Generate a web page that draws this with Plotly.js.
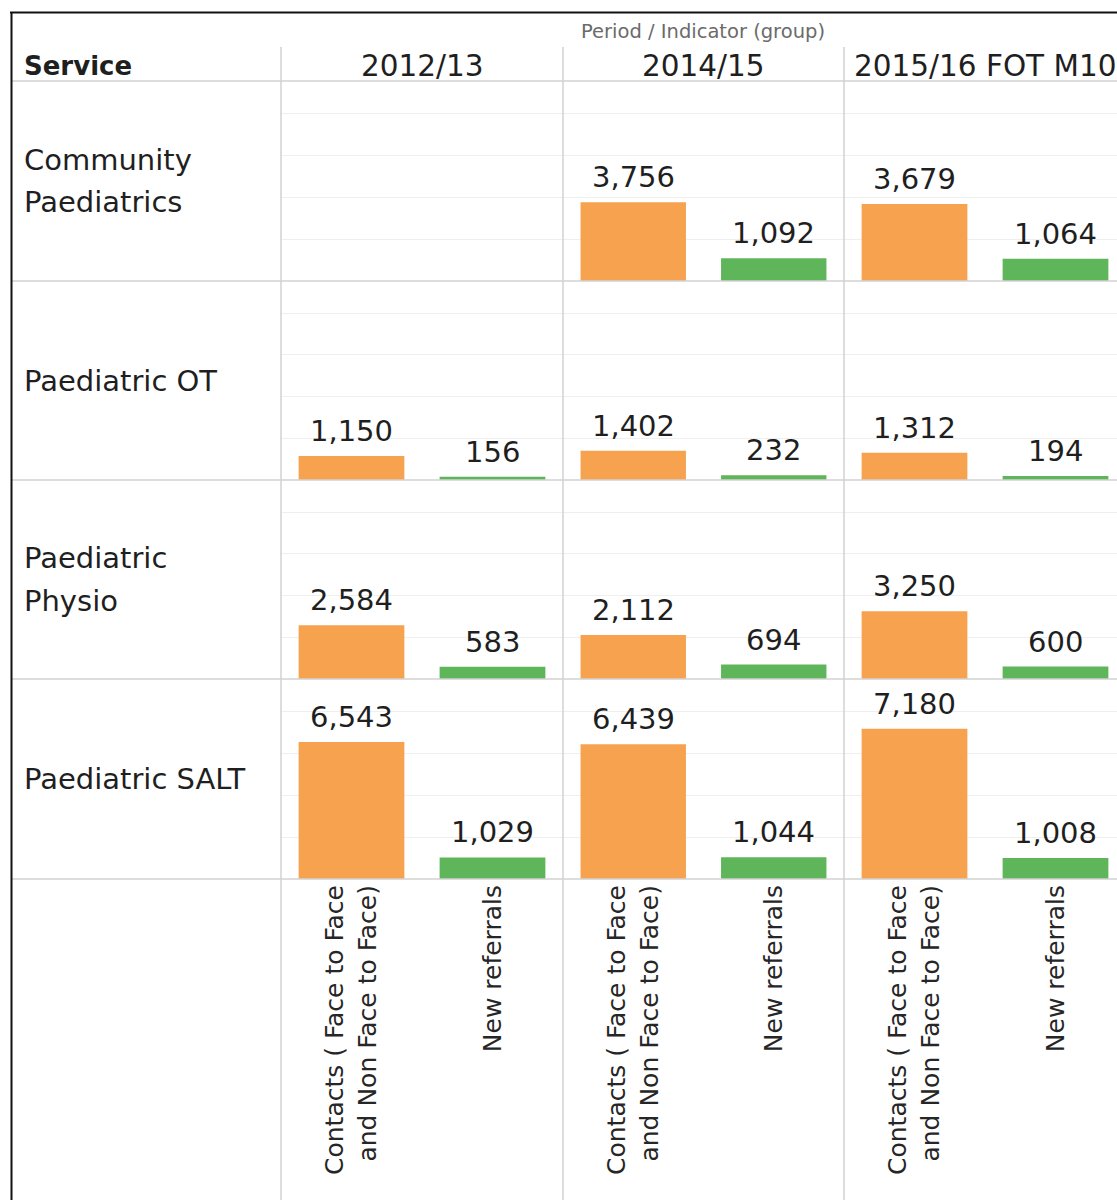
<!DOCTYPE html>
<html>
<head>
<meta charset="utf-8">
<script src="https://cdn.plot.ly/plotly-3.0.1.min.js"></script>
<style>
  html, body { margin: 0; padding: 0; background: #ffffff; }
  #chart { width: 1117px; height: 1200px; }
</style>
</head>
<body>
<div id="chart"></div>
<script>
// ---- Data ----
const periods = ['2012/13', '2014/15', '2015/16 FOT M10'];
const services = ['Community Paediatrics', 'Paediatric OT', 'Paediatric Physio', 'Paediatric SALT'];
const serviceLabelLines = [['Community', 'Paediatrics'], ['Paediatric OT'], ['Paediatric', 'Physio'], ['Paediatric SALT']];
const indicators = ['Contacts ( Face to Face and Non Face to Face)', 'New referrals'];
const indicatorTickText = ['Contacts ( Face to Face<br>and Non Face to Face)', 'New referrals'];

// values per service, across periods
const contactsCommunity = [null, 3756, 3679];
const referralsCommunity = [null, 1092, 1064];
const contactsOT = [1150, 1402, 1312];
const referralsOT = [156, 232, 194];
const contactsPhysio = [2584, 2112, 3250];
const referralsPhysio = [583, 694, 600];
const contactsSALT = [6543, 6439, 7180];
const referralsSALT = [1029, 1044, 1008];

const contactsBySvc = [contactsCommunity, contactsOT, contactsPhysio, contactsSALT];
const referralsBySvc = [referralsCommunity, referralsOT, referralsPhysio, referralsSALT];

// ---- Layout geometry (pixels) ----
const W = 1117, H = 1200;
const colEdges = [281, 563, 844, 1126];
const rowEdges = [81, 281, 480, 679, 879];
const px = v => v / W;
const py = v => 1 - v / H;

const ORANGE = '#F7A24F';
const GREEN = '#5FB55A';
const FONT = 'DejaVu Sans';
const TXT = '#1f1f1f';

const traces = [];
const layout = {
  width: W, height: H,
  margin: {l: 0, r: 0, t: 0, b: 0},
  paper_bgcolor: '#ffffff',
  plot_bgcolor: 'rgba(0,0,0,0)',
  showlegend: false,
  bargap: 0.25,
  font: {family: FONT, color: TXT},
  annotations: [],
  shapes: []
};

services.forEach((svc, r) => {
  periods.forEach((per, c) => {
    const idx = r * 3 + c + 1;
    const xName = 'x' + idx, yName = 'y' + idx;
    const left = colEdges[c];
    const right = Math.min(colEdges[c + 1], W);
    const catW = (colEdges[c + 1] - colEdges[c]) / 2;
    const vals = [contactsBySvc[r][c], referralsBySvc[r][c]];

    traces.push({
      type: 'bar',
      x: indicators,
      y: vals,
      xaxis: xName, yaxis: yName,
      marker: {color: [ORANGE, GREEN], line: {width: 0}},
      hoverinfo: 'x+y'
    });

    layout['xaxis' + idx] = {
      domain: [px(left), px(right)],
      anchor: yName,
      type: 'category',
      categoryorder: 'array',
      categoryarray: indicators,
      range: [-0.5, -0.5 + (right - left) / catW],
      showgrid: false, zeroline: false, showline: false,
      ticks: '',
      showticklabels: r === services.length - 1,
      tickmode: 'array',
      tickvals: indicators,
      ticktext: indicatorTickText,
      tickangle: -90,
      tickfont: {family: FONT, size: 25, color: '#262626'},
      fixedrange: true
    };
    layout['yaxis' + idx] = {
      domain: [py(rowEdges[r + 1]), py(rowEdges[r])],
      anchor: xName,
      range: [0, 9550],
      dtick: 2000,
      showgrid: true, gridcolor: '#efefef', gridwidth: 1,
      zeroline: false, showline: false,
      showticklabels: false, ticks: '',
      fixedrange: true
    };

    vals.forEach((v, k) => {
      if (v === null) return;
      layout.annotations.push({
        xref: xName, yref: yName,
        x: indicators[k], y: v,
        text: v.toLocaleString('en-US'),
        showarrow: false,
        xanchor: 'center', yanchor: 'bottom',
        yshift: 6,
        font: {family: FONT, size: 29, color: TXT}
      });
    });
  });

  // row label
  const lines = serviceLabelLines[r];
  const center = (rowEdges[r] + rowEdges[r + 1]) / 2;
  lines.forEach((ln, i) => {
    const off = (i - (lines.length - 1) / 2) * 43;
    layout.annotations.push({
      xref: 'paper', yref: 'paper',
      x: px(22), y: py(center + off),
      xanchor: 'left', yanchor: 'middle',
      text: ln, showarrow: false,
      font: {family: FONT, size: 29, color: TXT}
    });
  });
});

// column headers
periods.forEach((per, c) => {
  layout.annotations.push({
    xref: 'paper', yref: 'paper',
    x: px((colEdges[c] + colEdges[c + 1]) / 2), y: py(66),
    xanchor: 'center', yanchor: 'middle',
    text: per, showarrow: false,
    font: {family: FONT, size: 29.5, color: TXT}
  });
});
layout.annotations.push({
  xref: 'paper', yref: 'paper',
  x: px(22), y: py(66), xanchor: 'left', yanchor: 'middle',
  text: '<b>Service</b>', showarrow: false,
  font: {family: FONT, size: 26, color: TXT}
});
layout.annotations.push({
  xref: 'paper', yref: 'paper',
  x: px(703), y: py(32), xanchor: 'center', yanchor: 'middle',
  text: 'Period / Indicator (group)', showarrow: false,
  font: {family: FONT, size: 19.5, color: '#6b6b6b'}
});

// frame and divider lines
const LINE = '#d2d2d2';
const hLine = (y, x0, x1, color, w) => ({type: 'line', xref: 'paper', yref: 'paper',
  x0: px(x0), x1: px(x1), y0: py(y), y1: py(y), line: {color: color, width: w}, layer: 'above'});
const vLine = (x, y0, y1, color, w) => ({type: 'line', xref: 'paper', yref: 'paper',
  x0: px(x), x1: px(x), y0: py(y0), y1: py(y1), line: {color: color, width: w}, layer: 'above'});

rowEdges.forEach(y => layout.shapes.push(hLine(y, 11, W, LINE, 1.5)));
colEdges.slice(0, 3).forEach(x => layout.shapes.push(vLine(x, 47, H, LINE, 1.5)));
layout.shapes.push(hLine(12.5, 10, W, '#111111', 2));
layout.shapes.push(vLine(11.5, 12, H, '#111111', 2));

Plotly.newPlot('chart', traces, layout, {displayModeBar: false, staticPlot: true});
</script>
</body>
</html>
